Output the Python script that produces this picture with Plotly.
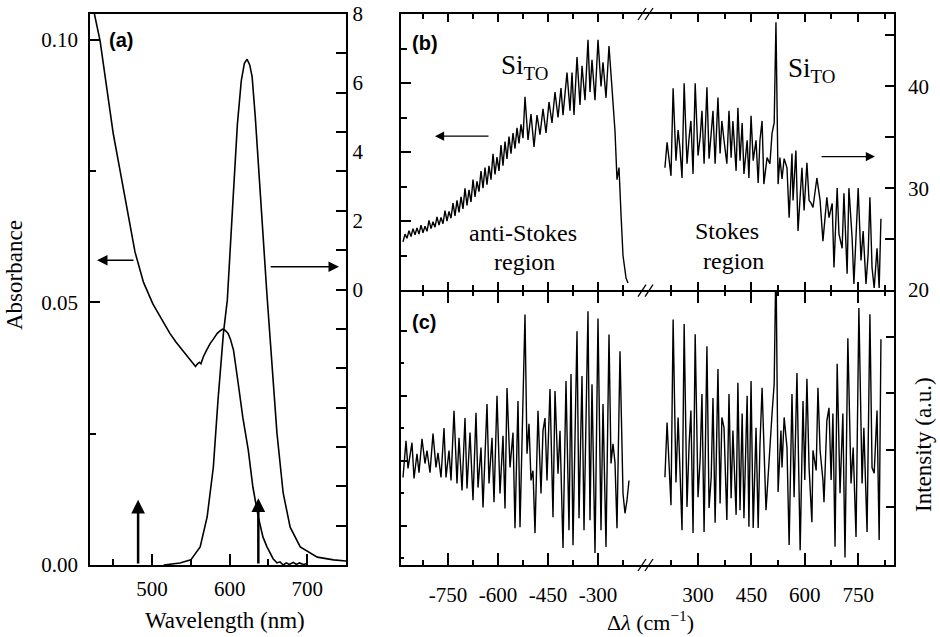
import plotly.graph_objects as go

# ---------------- Panel (a) data ----------------
abs_wl = [421, 423, 426, 433, 442, 450, 459, 468, 478, 489, 501, 514, 523, 531, 539, 546, 552,
          556, 558, 561, 563, 566, 570, 575, 579, 584, 588, 591, 594, 598, 601, 605, 611, 617,
          624, 630, 637, 643, 648, 652, 656, 661, 665, 669, 673, 677, 682, 686, 690, 695, 700]
abs_val = [0.1110, 0.1085, 0.1047, 0.0998, 0.0903, 0.0821, 0.0749, 0.0675, 0.0596, 0.0538, 0.0497,
           0.0464, 0.0441, 0.0424, 0.0409, 0.0395, 0.0384, 0.0378, 0.0382, 0.0386, 0.0383, 0.0396,
           0.0408, 0.0422, 0.0430, 0.0441, 0.0446, 0.0449, 0.0447, 0.0441, 0.0430, 0.0409, 0.0346,
           0.0281, 0.0219, 0.0148, 0.0091, 0.0053, 0.0035, 0.0023, 0.0012, 0.0004, 0.0006, 0.0000,
           0.0004, 0.0001, 0.0005, 0.0001, 0.0004, 0.0001, 0.0003]

pl_wl = [515, 536, 550, 562, 571, 579, 585, 592, 597, 601, 605, 610, 615, 619, 622.5, 626, 629,
         633, 638, 643, 648, 655, 661, 669, 678, 691, 713, 734, 750]
pl_val = [0.0, 0.05, 0.13, 0.46, 1.22, 2.49, 4.19, 5.89, 6.73, 8.0, 9.5, 11.2, 12.3, 12.75, 12.85,
          12.7, 12.4, 11.4, 10.0, 8.4, 6.9, 5.0, 3.35, 1.83, 0.96, 0.46, 0.20, 0.13, 0.10]

laser_wl = [482, 637]
laser_top = [0.0124, 0.0127]

# ---------------- Panel (b) data ----------------
as_shift = [-885, -879, -873, -867, -861, -855, -849, -843, -837, -831, -825, -819, -813, -807,
            -801, -795, -789, -783, -777, -771, -765, -759, -753, -747, -741, -735, -729, -723,
            -717, -711, -705, -699, -693, -687, -681, -675, -669, -663, -657, -651, -645, -639,
            -633, -627, -621, -615, -609, -603, -597, -591, -585, -579, -573, -567, -561, -555,
            -549, -543, -537, -531, -525, -519, -510, -501, -492, -483, -474, -465, -456, -447,
            -438, -429, -420, -411, -405, -393, -384, -378, -372, -363, -354, -348, -339, -330,
            -324, -318, -309, -300, -291, -285, -276, -267, -258, -249, -243, -237, -231, -225,
            -216, -210]
as_int = [1.40, 1.62, 1.50, 1.72, 1.55, 1.78, 1.60, 1.80, 1.62, 1.88, 1.66, 1.85, 1.70, 2.02,
          1.78, 1.98, 1.82, 2.12, 1.88, 2.10, 1.92, 2.30, 2.00, 2.28, 2.08, 2.52, 2.15, 2.60,
          2.25, 2.70, 2.35, 2.95, 2.45, 2.90, 2.55, 3.20, 2.70, 3.15, 2.85, 3.45, 2.95, 3.55,
          3.05, 3.60, 3.20, 3.95, 3.35, 3.85, 3.45, 4.20, 3.60, 4.30, 3.80, 4.45, 3.95, 4.55,
          4.10, 4.70, 4.25, 4.80, 4.40, 5.60, 4.35, 5.10, 4.15, 5.07, 4.50, 5.25, 4.55, 5.45,
          4.84, 5.74, 5.00, 5.85, 5.07, 6.30, 5.20, 6.30, 5.07, 6.75, 5.36, 6.50, 5.50, 7.25,
          5.74, 6.67, 5.50, 7.25, 5.90, 6.60, 5.57, 7.07, 5.85, 4.60, 3.20, 3.55, 2.20, 1.00,
          0.35, 0.20]

st_shift = [207, 213, 224, 230, 238, 244, 249, 255, 261, 269, 275, 280, 286, 292, 300, 306, 311,
            317, 325, 331, 337, 342, 348, 356, 362, 367, 373, 381, 387, 393, 398, 407, 412, 418,
            424, 429, 438, 443, 449, 455, 463, 469, 474, 480, 485, 494, 502, 508, 514, 519, 525,
            530, 536, 542, 550, 556, 564, 567, 575, 581, 592, 598, 606, 612, 618, 623, 634, 643,
            651, 662, 668, 677, 682, 691, 696, 705, 710, 719, 724, 733, 738, 747, 750, 758, 764,
            772, 778, 783, 789, 795, 803, 809, 814]
st_int = [32.0, 34.5, 31.2, 39.8, 32.7, 35.7, 34.0, 31.0, 40.3, 32.4, 35.0, 36.6, 31.4, 40.3,
          33.2, 35.0, 37.6, 32.4, 39.9, 32.9, 35.4, 37.6, 32.4, 38.9, 33.4, 36.6, 34.7, 32.4,
          37.6, 33.0, 36.6, 31.7, 37.9, 32.7, 36.4, 31.4, 34.7, 31.0, 37.1, 32.7, 34.7, 30.5,
          34.7, 36.6, 30.4, 33.0, 32.4, 35.4, 36.4, 46.3, 30.4, 33.0, 30.9, 32.9, 32.0, 27.1,
          33.4, 28.8, 33.7, 25.8, 32.0, 27.8, 32.5, 28.8, 28.5, 28.1, 31.0, 28.8, 24.8, 29.1,
          27.1, 28.5, 22.2, 30.0, 25.5, 24.1, 29.5, 21.6, 30.0, 25.1, 20.6, 28.1, 30.0, 22.9,
          25.8, 20.6, 23.5, 29.1, 22.2, 20.2, 24.1, 20.2, 27.0]

# ---------------- Panel (c) data ----------------
cas_shift = [-885, -876, -870, -858, -852, -843, -837, -828, -819, -813, -804, -795, -786, -780,
             -771, -762, -756, -747, -741, -732, -723, -717, -708, -699, -693, -684, -675, -666,
             -660, -651, -645, -633, -627, -618, -612, -603, -594, -585, -579, -573, -564, -555,
             -549, -540, -534, -528, -519, -513, -507, -501, -495, -489, -480, -471, -465, -459,
             -453, -444, -435, -429, -420, -414, -405, -396, -387, -381, -375, -363, -357, -348,
             -342, -330, -324, -318, -309, -300, -291, -285, -276, -267, -261, -255, -249, -243,
             -234, -225, -219, -213, -207]
cas_int = [-0.52, 0.61, -0.24, 0.55, -0.55, 0.21, -0.37, 0.67, -0.09, 0.31, -0.37, 0.83, -0.21,
           0.24, -0.52, 1.00, -0.52, 0.31, -0.61, 1.53, -0.70, 0.70, -0.92, 1.31, -0.86, 0.86,
           -1.22, 1.47, -0.83, 0.40, -1.44, 1.74, -0.70, 0.70, -1.28, 1.99, -1.01, 0.76, -1.47,
           2.23, -0.21, 0.86, -2.08, 1.83, -2.05, 0.83, 4.49, 0.21, 1.13, -0.61, -0.31, -2.23,
           1.53, -1.01, 0.92, 1.31, -0.61, 2.20, -1.74, 2.14, -0.40, 0.92, -2.69, 2.45, -2.14,
           2.66, -2.60, 3.98, -1.77, 2.60, -2.14, 4.59, -1.83, 2.35, -2.84, 4.37, -2.14, 1.74,
           -2.66, 3.88, -0.09, 0.52, -0.06, -2.08, 3.36, -1.01, -1.62, -1.22, -0.61]

cst_shift = [207, 213, 224, 230, 238, 244, 249, 255, 261, 269, 275, 280, 286, 292, 300, 306, 311,
             317, 325, 331, 337, 342, 348, 356, 362, 367, 373, 381, 387, 393, 398, 407, 412, 418,
             424, 429, 438, 443, 449, 455, 463, 469, 474, 480, 491, 497, 508, 514, 519, 525, 533,
             536, 542, 550, 556, 564, 570, 578, 587, 595, 600, 606, 612, 620, 623, 632, 637, 643,
             651, 654, 662, 668, 674, 679, 685, 691, 699, 707, 713, 721, 730, 736, 744, 752, 761,
             766, 775, 783, 789, 795, 803, 809, 814]
cst_int = [-0.47, 0.49, -0.96, 2.30, -0.56, 0.58, -0.30, -1.40, 2.22, -0.99, 0.12, 0.70, -1.45,
           2.04, -0.82, -0.14, 0.99, -1.43, 1.83, -1.01, -0.47, 0.92, -1.27, 1.43, -0.93, 0.58,
           0.40, -1.22, 0.99, -0.84, 0.35, -1.13, 1.19, -1.05, 0.65, -1.19, 0.96, -1.34, 1.22,
           -1.36, 0.40, -1.36, 0.09, 1.10, -1.05, -0.40, 0.65, 1.17, 3.40, -0.73, 0.35, -0.30,
           0.58, 0.05, -1.66, 0.99, -0.82, 1.36, -1.75, 0.87, -0.52, 1.26, -0.30, -1.26, 0.00,
           -0.35, 1.10, 0.00, -0.52, -0.91, 0.52, 0.75, -0.52, 0.65, -1.69, 1.52, -0.75, 0.65,
           -1.88, 1.97, -0.58, 0.05, -1.52, 2.50, -0.58, 0.40, -1.43, 2.39, -0.30, -0.40, 0.70,
           -1.57, 1.95]

# ---------------- Layout helpers ----------------
W, H = 940, 637
SERIF = "Liberation Serif, Times New Roman, serif"
SANS = "Liberation Sans, Arial, sans-serif"


def fx(p):
    return p / W


def fy(p):
    return 1 - p / H


LINE = dict(color="black", width=1.4)

fig = go.Figure()
fig.add_trace(go.Scatter(x=abs_wl, y=abs_val, mode="lines", line=dict(color="black", width=1.6),
                         xaxis="x", yaxis="y", showlegend=False))
fig.add_trace(go.Scatter(x=pl_wl, y=pl_val, mode="lines", line=dict(color="black", width=1.6),
                         xaxis="x", yaxis="y2", showlegend=False))
fig.add_trace(go.Scatter(x=as_shift, y=as_int, mode="lines", line=LINE,
                         xaxis="x3", yaxis="y3", showlegend=False))
fig.add_trace(go.Scatter(x=st_shift, y=st_int, mode="lines", line=LINE,
                         xaxis="x4", yaxis="y4", showlegend=False))
fig.add_trace(go.Scatter(x=cas_shift, y=cas_int, mode="lines", line=LINE,
                         xaxis="x5", yaxis="y5", showlegend=False))
fig.add_trace(go.Scatter(x=cst_shift, y=cst_int, mode="lines", line=LINE,
                         xaxis="x6", yaxis="y6", showlegend=False))

common = dict(showgrid=False, zeroline=False, showline=True, linecolor="black", linewidth=1.5,
              ticks="inside", tickcolor="black", tickwidth=1.5, automargin=False,
              tickfont=dict(family=SERIF, size=21, color="black"))


def minor(vals, length):
    return dict(tickvals=vals, ticklen=length, ticks="inside", tickcolor="black", tickwidth=1.5)


dom_a_x = [fx(90), fx(346)]
dom_full_y = [fy(565), fy(14)]
dom_b_y = [fy(290), fy(14)]
dom_c_y = [fy(565), fy(291.5)]
dom_l_x = [fx(401), fx(647.5)]
dom_r_x = [fx(647.5), fx(894)]
left_range = [-891, -151.5]
right_range = [158, 850.7]

fig.update_layout(
    width=W, height=H, autosize=False,
    margin=dict(l=0, r=0, t=0, b=0, pad=0, autoexpand=False),
    plot_bgcolor="white", paper_bgcolor="white", showlegend=False,
    xaxis=dict(common, domain=dom_a_x, range=[420, 750], anchor="y", tickvals=[500, 600, 700],
               ticklen=11, minor=minor([450, 550, 650], 6), mirror=True, ticklabelstandoff=4),
    yaxis=dict(common, domain=dom_full_y, range=[0, 0.1049], anchor="x",
               tickvals=[0, 0.05, 0.10], ticktext=["0.00", "0.05", "0.10"], ticklen=10,
               minor=minor([0.025, 0.075], 6), ticklabelstandoff=6),
    yaxis2=dict(common, overlaying="y", side="right", anchor="x", range=[0, 14],
                tickvals=list(range(1, 14)), ticklen=10, showticklabels=False),
    xaxis3=dict(common, domain=dom_l_x, range=left_range, anchor="y3",
                tickvals=[-750, -600, -450, -300], ticklen=8,
                minor=minor([-825, -675, -525, -375, -225], 5), showticklabels=False, mirror="ticks"),
    yaxis3=dict(common, domain=dom_b_y, range=[0, 8], anchor="x3", tickvals=[0, 2, 4, 6, 8],
                ticklen=10, minor=minor([1, 3, 5, 7], 6), ticklabelstandoff=32),
    xaxis4=dict(common, domain=dom_r_x, range=right_range, anchor="y4",
                tickvals=[300, 450, 600, 750], ticklen=8,
                minor=minor([225, 375, 525, 675, 825], 5), showticklabels=False, mirror="ticks"),
    yaxis4=dict(common, domain=dom_b_y, range=[20, 47.1], anchor="x4", side="right",
                tickvals=[20, 30, 40], ticklen=9, minor=minor([25, 35, 45], 9),
                ticklabelstandoff=8),
    xaxis5=dict(common, domain=dom_l_x, range=left_range, anchor="y5",
                tickvals=[-750, -600, -450, -300], ticktext=["-750", "-600", "-450", "-300"],
                ticklen=12, minor=minor([-825, -675, -525, -375, -225], 5), mirror="ticks",
                ticklabelstandoff=10),
    yaxis5=dict(common, domain=dom_c_y, range=[-3.21, 5.2], anchor="x5", tickvals=[-2, 0, 2, 4],
                ticklen=6, minor=minor([-3, -1, 1, 3], 3), showticklabels=False),
    xaxis6=dict(common, domain=dom_r_x, range=right_range, anchor="y6",
                tickvals=[300, 450, 600, 750], ticklen=12,
                minor=minor([225, 375, 525, 675, 825], 5), mirror="ticks", ticklabelstandoff=10),
    yaxis6=dict(common, domain=dom_c_y, range=[-2.01, 2.79], anchor="x6", side="right",
                tickvals=[-1, 0, 1, 2], ticklen=8, showticklabels=False),
)

ann = []


def text(x, y, s, size=23, font=SERIF, angle=0, xanchor="center", yanchor="middle"):
    ann.append(dict(x=fx(x), y=fy(y), xref="paper", yref="paper", text=s, showarrow=False,
                    textangle=angle, xanchor=xanchor, yanchor=yanchor,
                    font=dict(family=font, size=size, color="black")))


text(14, 275, "Absorbance", angle=-90)
text(225, 620, "Wavelength (nm)")
text(650, 636.5, "Δ<i>λ</i> (cm<sup>−1</sup>)", size=22, yanchor="bottom")
text(923, 445, "Intensity (a.u.)", angle=-90)
text(107, 40, "<b>(a)</b>", size=20, font=SANS, xanchor="left")
text(410, 43, "<b>(b)</b>", size=20, font=SANS, xanchor="left")
text(410, 322, "<b>(c)</b>", size=20, font=SANS, xanchor="left")
text(499, 67, "Si<sub>TO</sub>", size=27, xanchor="left")
text(786, 70, "Si<sub>TO</sub>", size=27, xanchor="left")
text(523, 233, "anti-Stokes", size=24)
text(524, 262, "region", size=24)
text(727, 231, "Stokes", size=24)
text(733, 261, "region", size=24)


def arrow(xr, yr, x, y, ax, ay, width, head, size):
    ann.append(dict(x=x, y=y, ax=ax, ay=ay, xref=xr, yref=yr, axref=xr, ayref=yr, text="",
                    showarrow=True, arrowhead=head, arrowsize=size, arrowwidth=width,
                    arrowcolor="black"))


for wl, top in zip(laser_wl, laser_top):
    arrow("x", "y", wl, top, wl, 0, 2.5, 2, 1.1)
arrow("x", "y", 429, 0.058, 478, 0.058, 1.5, 2, 1.4)
arrow("x", "y", 741, 0.0568, 651, 0.0568, 1.5, 2, 1.4)
arrow("x3", "y3", -789, 4.46, -624, 4.46, 1.3, 2, 1.4)
arrow("x4", "y4", 797, 33.1, 643, 33.1, 1.3, 2, 1.4)

fig.update_layout(annotations=ann)

# axis-break marks
shapes = []
for yb in [14, 290.7, 565]:
    for xc in [642, 649]:
        shapes.append(dict(type="line", xref="paper", yref="paper",
                           x0=fx(xc - 4), y0=fy(yb + 6), x1=fx(xc + 4), y1=fy(yb - 6),
                           line=dict(color="black", width=1.3)))
fig.update_layout(shapes=shapes)

fig.write_html("out.html")
